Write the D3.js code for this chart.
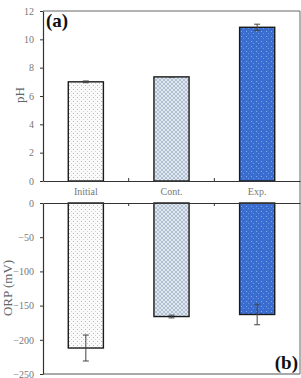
<!DOCTYPE html>
<html>
<head>
<meta charset="utf-8">
<script src="https://cdn.jsdelivr.net/npm/d3@7"></script>
<style>
  body { margin: 0; background: #fff; }
</style>
</head>
<body>
<div id="chart"></div>
<script>
// data
const categories = ["Initial", "Cont.", "Exp."];
const phValues = [7.0, 7.35, 10.85];
const phErrors = [0.06, 0.02, 0.22];
const orpValues = [-212, -166, -163];
const orpErrors = [19, 2, 15];
const phTicks = [0, 2, 4, 6, 8, 10, 12];
const orpTicks = [0, -50, -100, -150, -200, -250];

const serif = "'Liberation Serif', 'Times New Roman', serif";
const width = 301, height = 378;
const left = 43, right = 300;
const topA = 11, bottomA = 181;
const topB = 203, bottomB = 374;

const svg = d3.select("#chart")
  .append("svg")
  .attr("width", width)
  .attr("height", height)
  .style("font-family", serif);

// patterns for the three bars
const defs = svg.append("defs");

const p0 = defs.append("pattern")
  .attr("id", "pat0").attr("patternUnits", "userSpaceOnUse")
  .attr("width", 4).attr("height", 4);
p0.append("rect").attr("width", 4).attr("height", 4).attr("fill", "#fafafa");
p0.append("rect").attr("x", 1).attr("y", 1).attr("width", 1).attr("height", 1).attr("fill", "#b8b8b8");
p0.append("rect").attr("x", 3).attr("y", 3).attr("width", 1).attr("height", 1).attr("fill", "#d0d0d0");

const p1 = defs.append("pattern")
  .attr("id", "pat1").attr("patternUnits", "userSpaceOnUse")
  .attr("width", 4).attr("height", 4);
p1.append("rect").attr("width", 4).attr("height", 4).attr("fill", "#dfe7f1");
p1.append("path").attr("d", "M0,0L4,4M4,0L0,4").attr("stroke", "#a7b7ca").attr("stroke-width", 0.8);

const p2 = defs.append("pattern")
  .attr("id", "pat2").attr("patternUnits", "userSpaceOnUse")
  .attr("width", 5).attr("height", 5);
p2.append("rect").attr("width", 5).attr("height", 5).attr("fill", "#3a6dd0");
p2.append("rect").attr("x", 1).attr("y", 1).attr("width", 1).attr("height", 1).attr("fill", "#86a8ea");
p2.append("rect").attr("x", 3).attr("y", 3).attr("width", 1).attr("height", 1).attr("fill", "#6f95e0");

// scales
const xScale = d3.scaleBand().domain(categories).range([left, right]).padding(0);
const barW = xScale.bandwidth() * 0.41;
const yA = d3.scaleLinear().domain([0, 12]).range([bottomA, topA]);
const yB = d3.scaleLinear().domain([-250, 0]).range([bottomB, topB]);

// frame lines
svg.append("line").attr("x1", left).attr("x2", right).attr("y1", topA).attr("y2", topA)
  .attr("stroke", "#666").attr("stroke-width", 1);
svg.append("line").attr("x1", right).attr("x2", right).attr("y1", topA).attr("y2", bottomB)
  .attr("stroke", "#666").attr("stroke-width", 1);
svg.append("line").attr("x1", left).attr("x2", right).attr("y1", bottomB).attr("y2", bottomB)
  .attr("stroke", "#555").attr("stroke-width", 1.2);

// bars, panel (a)
svg.append("g")
  .selectAll("rect")
  .data(phValues)
  .join("rect")
  .attr("x", (d, i) => xScale(categories[i]) + (xScale.bandwidth() - barW) / 2)
  .attr("y", (d) => yA(d))
  .attr("width", barW)
  .attr("height", (d) => yA(0) - yA(d))
  .attr("fill", (d, i) => `url(#pat${i})`)
  .attr("stroke", "#1a1a1a")
  .attr("stroke-width", 1.4);

// bars, panel (b)
svg.append("g")
  .selectAll("rect")
  .data(orpValues)
  .join("rect")
  .attr("x", (d, i) => xScale(categories[i]) + (xScale.bandwidth() - barW) / 2)
  .attr("y", yB(0))
  .attr("width", barW)
  .attr("height", (d) => yB(d) - yB(0))
  .attr("fill", (d, i) => `url(#pat${i})`)
  .attr("stroke", "#1a1a1a")
  .attr("stroke-width", 1.4);

// error bars
function errorBars(vals, errs, y) {
  const g = svg.append("g").attr("stroke", "#444").attr("stroke-width", 1);
  vals.forEach((v, i) => {
    const cx = xScale(categories[i]) + xScale.bandwidth() / 2;
    g.append("line").attr("x1", cx).attr("x2", cx).attr("y1", y(v - errs[i])).attr("y2", y(v + errs[i]));
    g.append("line").attr("x1", cx - 3).attr("x2", cx + 3).attr("y1", y(v - errs[i])).attr("y2", y(v - errs[i]));
    g.append("line").attr("x1", cx - 3).attr("x2", cx + 3).attr("y1", y(v + errs[i])).attr("y2", y(v + errs[i]));
  });
}
errorBars(phValues, phErrors, yA);
errorBars(orpValues, orpErrors, yB);

// y axes
const axA = svg.append("g")
  .attr("transform", `translate(${left},0)`)
  .call(d3.axisLeft(yA).tickValues(phTicks).tickSize(3).tickSizeOuter(0).tickPadding(6));
const axB = svg.append("g")
  .attr("transform", `translate(${left},0)`)
  .call(d3.axisLeft(yB).tickValues(orpTicks).tickSize(3).tickSizeOuter(0).tickPadding(6));

// x axis lines with inward category ticks
[bottomA, topB].forEach((yy, k) => {
  const ax = svg.append("g")
    .attr("transform", `translate(0,${yy})`)
    .call(k === 0 ? d3.axisTop(xScale).tickSize(0).tickSizeOuter(0)
                  : d3.axisBottom(xScale).tickSize(0).tickSizeOuter(0));
  ax.selectAll(".tick").remove();
  ax.select(".domain").attr("stroke", "#333").attr("stroke-width", 1.2);
  ax.selectAll("line.sep")
    .data(categories.slice(1))
    .join("line")
    .attr("class", "sep")
    .attr("x1", (d) => xScale(d)).attr("x2", (d) => xScale(d))
    .attr("y1", 0).attr("y2", k === 0 ? -3 : 3)
    .attr("stroke", "#333");
});

[axA, axB].forEach((ax) => {
  ax.attr("font-family", null).style("font-family", serif);
  ax.select(".domain").attr("stroke", "#333").attr("stroke-width", 1.2);
  ax.selectAll(".tick line").attr("stroke", "#333");
  ax.selectAll(".tick text").attr("fill", "#777").attr("font-size", "10px")
    .style("font-family", serif);
});

// category labels between the panels
svg.append("g")
  .selectAll("text")
  .data(categories)
  .join("text")
  .attr("x", (d) => xScale(d) + xScale.bandwidth() / 2)
  .attr("y", 195)
  .attr("text-anchor", "middle")
  .attr("font-size", "10px")
  .attr("fill", "#777")
  .style("font-family", serif)
  .text((d) => d);

// y axis titles
svg.append("text")
  .attr("transform", "translate(24,95) rotate(-90)")
  .attr("text-anchor", "middle")
  .attr("font-size", "13px")
  .attr("fill", "#666")
  .style("font-family", serif)
  .text("pH");
svg.append("text")
  .attr("transform", "translate(12,288) rotate(-90)")
  .attr("text-anchor", "middle")
  .attr("font-size", "13px")
  .attr("fill", "#666")
  .style("font-family", serif)
  .text("ORP (mV)");

// panel tags
svg.append("text")
  .attr("x", 46).attr("y", 27)
  .attr("font-size", "19px").attr("font-weight", "bold").attr("fill", "#111")
  .style("font-family", serif)
  .text("(a)");
svg.append("text")
  .attr("x", 298).attr("y", 369)
  .attr("text-anchor", "end")
  .attr("font-size", "19px").attr("font-weight", "bold").attr("fill", "#111")
  .style("font-family", serif)
  .text("(b)");
</script>
</body>
</html>
